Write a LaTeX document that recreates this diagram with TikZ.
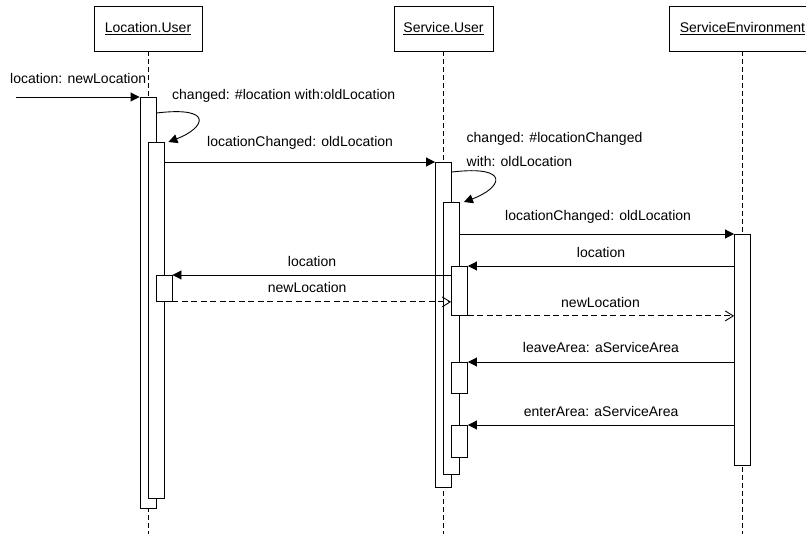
\documentclass[tikz,border=0pt]{standalone}
\usepackage{fontspec}
\setmainfont{Liberation Sans}
\usetikzlibrary{arrows.meta}

\tikzset{
  head/.style={draw, line width=0.9pt, fill=white, minimum height=45pt, inner sep=0pt,
               font=\fontsize{14pt}{16pt}\selectfont},
  life/.style={line width=0.8pt, dash pattern=on 5pt off 3pt},
  act/.style={draw, line width=0.9pt, fill=white, minimum width=16pt, inner sep=0pt, anchor=north},
  call/.style={line width=0.9pt, -{Triangle[length=9pt,width=9pt]}},
  reply/.style={line width=0.9pt, dash pattern=on 6pt off 3.5pt, -{Straight Barb[length=8pt,width=10pt]}},
  lbl/.style={anchor=base west, inner sep=0pt, font=\fontsize{14pt}{16pt}\selectfont},
}

\begin{document}
\begin{tikzpicture}[x=1pt, y=-1pt]
\useasboundingbox (0,0) rectangle (806,534);

% object heads
\node[head, minimum width=108pt] (locU) at (148,28.5) {\underline{Location.User}};
\node[head, minimum width=99pt]  (svcU) at (443.5,28.5) {\underline{Service.User}};
\node[head, minimum width=146pt] (env)  at (742.5,28.5) {\underline{ServiceEnvironment}};

% lifelines
\coordinate (locEnd) at (148,534);
\coordinate (svcEnd) at (443.5,534);
\coordinate (envEnd) at (742.5,534);
\draw[life] (locU.south) -- (locEnd);
\draw[life] (svcU.south) -- (svcEnd);
\draw[life] (env.south) -- (envEnd);

% activation bars of Location.User
\node[act, minimum height=411pt] (la1) at (148,97) {};
\node[act, minimum height=356pt] (la2) at (156,142) {};
\node[act, minimum height=26pt]  (la3) at (164,275) {};

% activation bars of Service.User
\node[act, minimum height=325pt] (sa1) at (443.5,162) {};
\node[act, minimum height=272pt] (sa2) at (451.5,202) {};
\node[act, minimum height=49pt]  (sa3) at (459.5,266) {};
\node[act, minimum height=31pt]  (sa4) at (459.5,362) {};
\node[act, minimum height=32pt]  (sa5) at (459.5,425) {};

% activation bar of ServiceEnvironment
\node[act, minimum height=231pt] (ea1) at (742.5,234) {};

% incoming message
\coordinate (src) at (16,97);
\draw[call] (src) -- (la1.north west);
\node[lbl] (m0) at (10,83.3) {location: newLocation};

% self call on Location.User
\draw[call] ([yshift=-16pt]la1.north east) .. controls (215,106) and (205,128) .. ([xshift=4pt]la2.north east);
\node[lbl] (m1) at (172,99.5) {changed: \#location with:oldLocation};

% Location.User -> Service.User
\draw[call] (la2.east |- sa1.north) -- (sa1.north west);
\node[lbl] (m2) at (207,147) {locationChanged: oldLocation};

% self call on Service.User
\draw[call] ([yshift=-10pt]sa1.north east) .. controls (512,165) and (502,188) .. ([xshift=4pt]sa2.north east);
\node[lbl] (m3a) at (466.5,143) {changed: \#locationChanged};
\node[lbl] (m3b) at (466.5,167) {with: oldLocation};

% Service.User -> ServiceEnvironment
\draw[call] (sa2.east |- ea1.north) -- (ea1.north west);
\node[lbl] (m4) at (505,220.5) {locationChanged: oldLocation};

% ServiceEnvironment asks for the location
\draw[call] (ea1.west |- sa3.north) -- (sa3.north east);
\node[lbl] (m5) at (576.7,258) {location};

% Service.User asks Location.User
\draw[call] (sa3.west |- la3.north) -- (la3.north east);
\node[lbl] (m6) at (287.7,267) {location};

% replies
\draw[reply] (la3.south east) -- (sa3.west |- la3.south);
\node[lbl] (m7) at (267.7,293) {newLocation};
\draw[reply] (sa3.south east) -- (ea1.west |- sa3.south);
\node[lbl] (m8) at (561,307.5) {newLocation};

% area notifications
\draw[call] (ea1.west |- sa4.north) -- (sa4.north east);
\node[lbl] (m9) at (522.7,353) {leaveArea: aServiceArea};
\draw[call] (ea1.west |- sa5.north) -- (sa5.north east);
\node[lbl] (m10) at (523.7,417) {enterArea: aServiceArea};
\end{tikzpicture}
\end{document}
